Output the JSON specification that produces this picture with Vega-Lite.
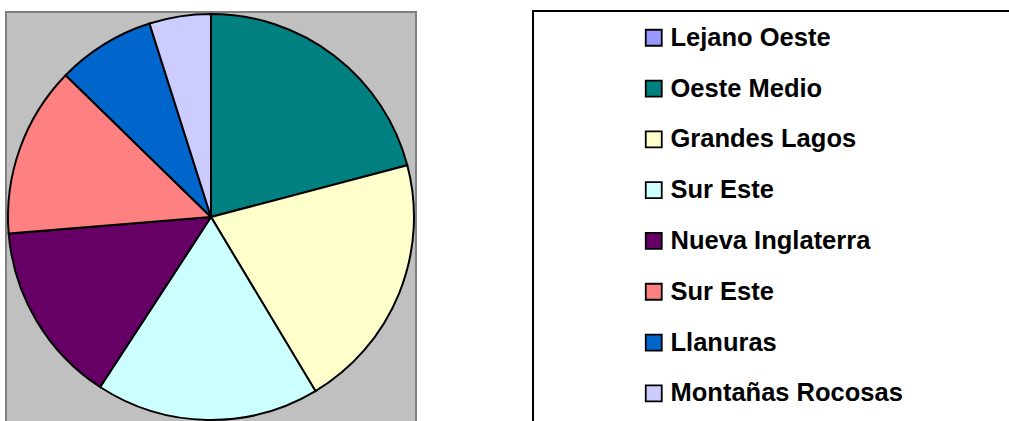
{
  "$schema": "https://vega.github.io/schema/vega-lite/v6.json",
  "width": 410,
  "height": 410,
  "autosize": {"type": "none"},
  "padding": {"left": 6, "top": 12, "right": 593, "bottom": -1},
  "background": "white",
  "layer": [
    {
      "data": {"values": [{"panel": "plot"}]},
      "mark": {"type": "rect", "fill": "#C0C0C0", "stroke": "#808080", "strokeWidth": 2},
      "encoding": {}
    },
    {
      "data": {
        "values": [
          {"rank": 0, "region": "Lejano Oeste", "pct": 0},
          {"rank": 1, "region": "Oeste Medio", "pct": 20.9},
          {"rank": 2, "region": "Grandes Lagos", "pct": 20.5},
          {"rank": 3, "region": "Sur Este", "pct": 17.8},
          {"rank": 4, "region": "Nueva Inglaterra", "pct": 14.5},
          {"rank": 5, "region": "Sur Este ", "pct": 13.6},
          {"rank": 6, "region": "Llanuras", "pct": 7.8},
          {"rank": 7, "region": "Montañas Rocosas", "pct": 4.9}
        ]
      },
      "mark": {"type": "arc", "radius": 203, "stroke": "black", "strokeWidth": 2},
      "encoding": {
        "theta": {"field": "pct", "type": "quantitative", "stack": true},
        "order": {"field": "rank", "type": "quantitative"},
        "color": {
          "field": "region",
          "type": "nominal",
          "scale": {
            "domain": ["Lejano Oeste", "Oeste Medio", "Grandes Lagos", "Sur Este", "Nueva Inglaterra", "Sur Este ", "Llanuras", "Montañas Rocosas"],
            "range": ["#9999FF", "#008080", "#FFFFCC", "#CCFFFF", "#660066", "#FF8080", "#0066CC", "#CCCCFF"]
          },
          "legend": {
            "title": [" ", " ", " ", " ", " "],
            "orient": "none",
            "legendX": 527,
            "legendY": -1,
            "direction": "vertical",
            "strokeColor": "black",
            "fillColor": "white",
            "padding": 14,
            "symbolType": "square",
            "symbolSize": 256,
            "symbolStrokeColor": "black",
            "symbolStrokeWidth": 1.8,
            "symbolOffset": 94,
            "labelFont": "Liberation Sans",
            "labelFontSize": 25.5,
            "labelFontWeight": "bold",
            "labelColor": "black",
            "labelOffset": 4,
            "labelLimit": 600,
            "rowPadding": 23.8,
            "titleOrient": "right",
            "titlePadding": 130,
            "titleFontSize": 10,
            "titleLineHeight": 100,
            "encode": {"legend": {"update": {"strokeWidth": {"value": 2}}}}
          }
        }
      }
    }
  ]
}
